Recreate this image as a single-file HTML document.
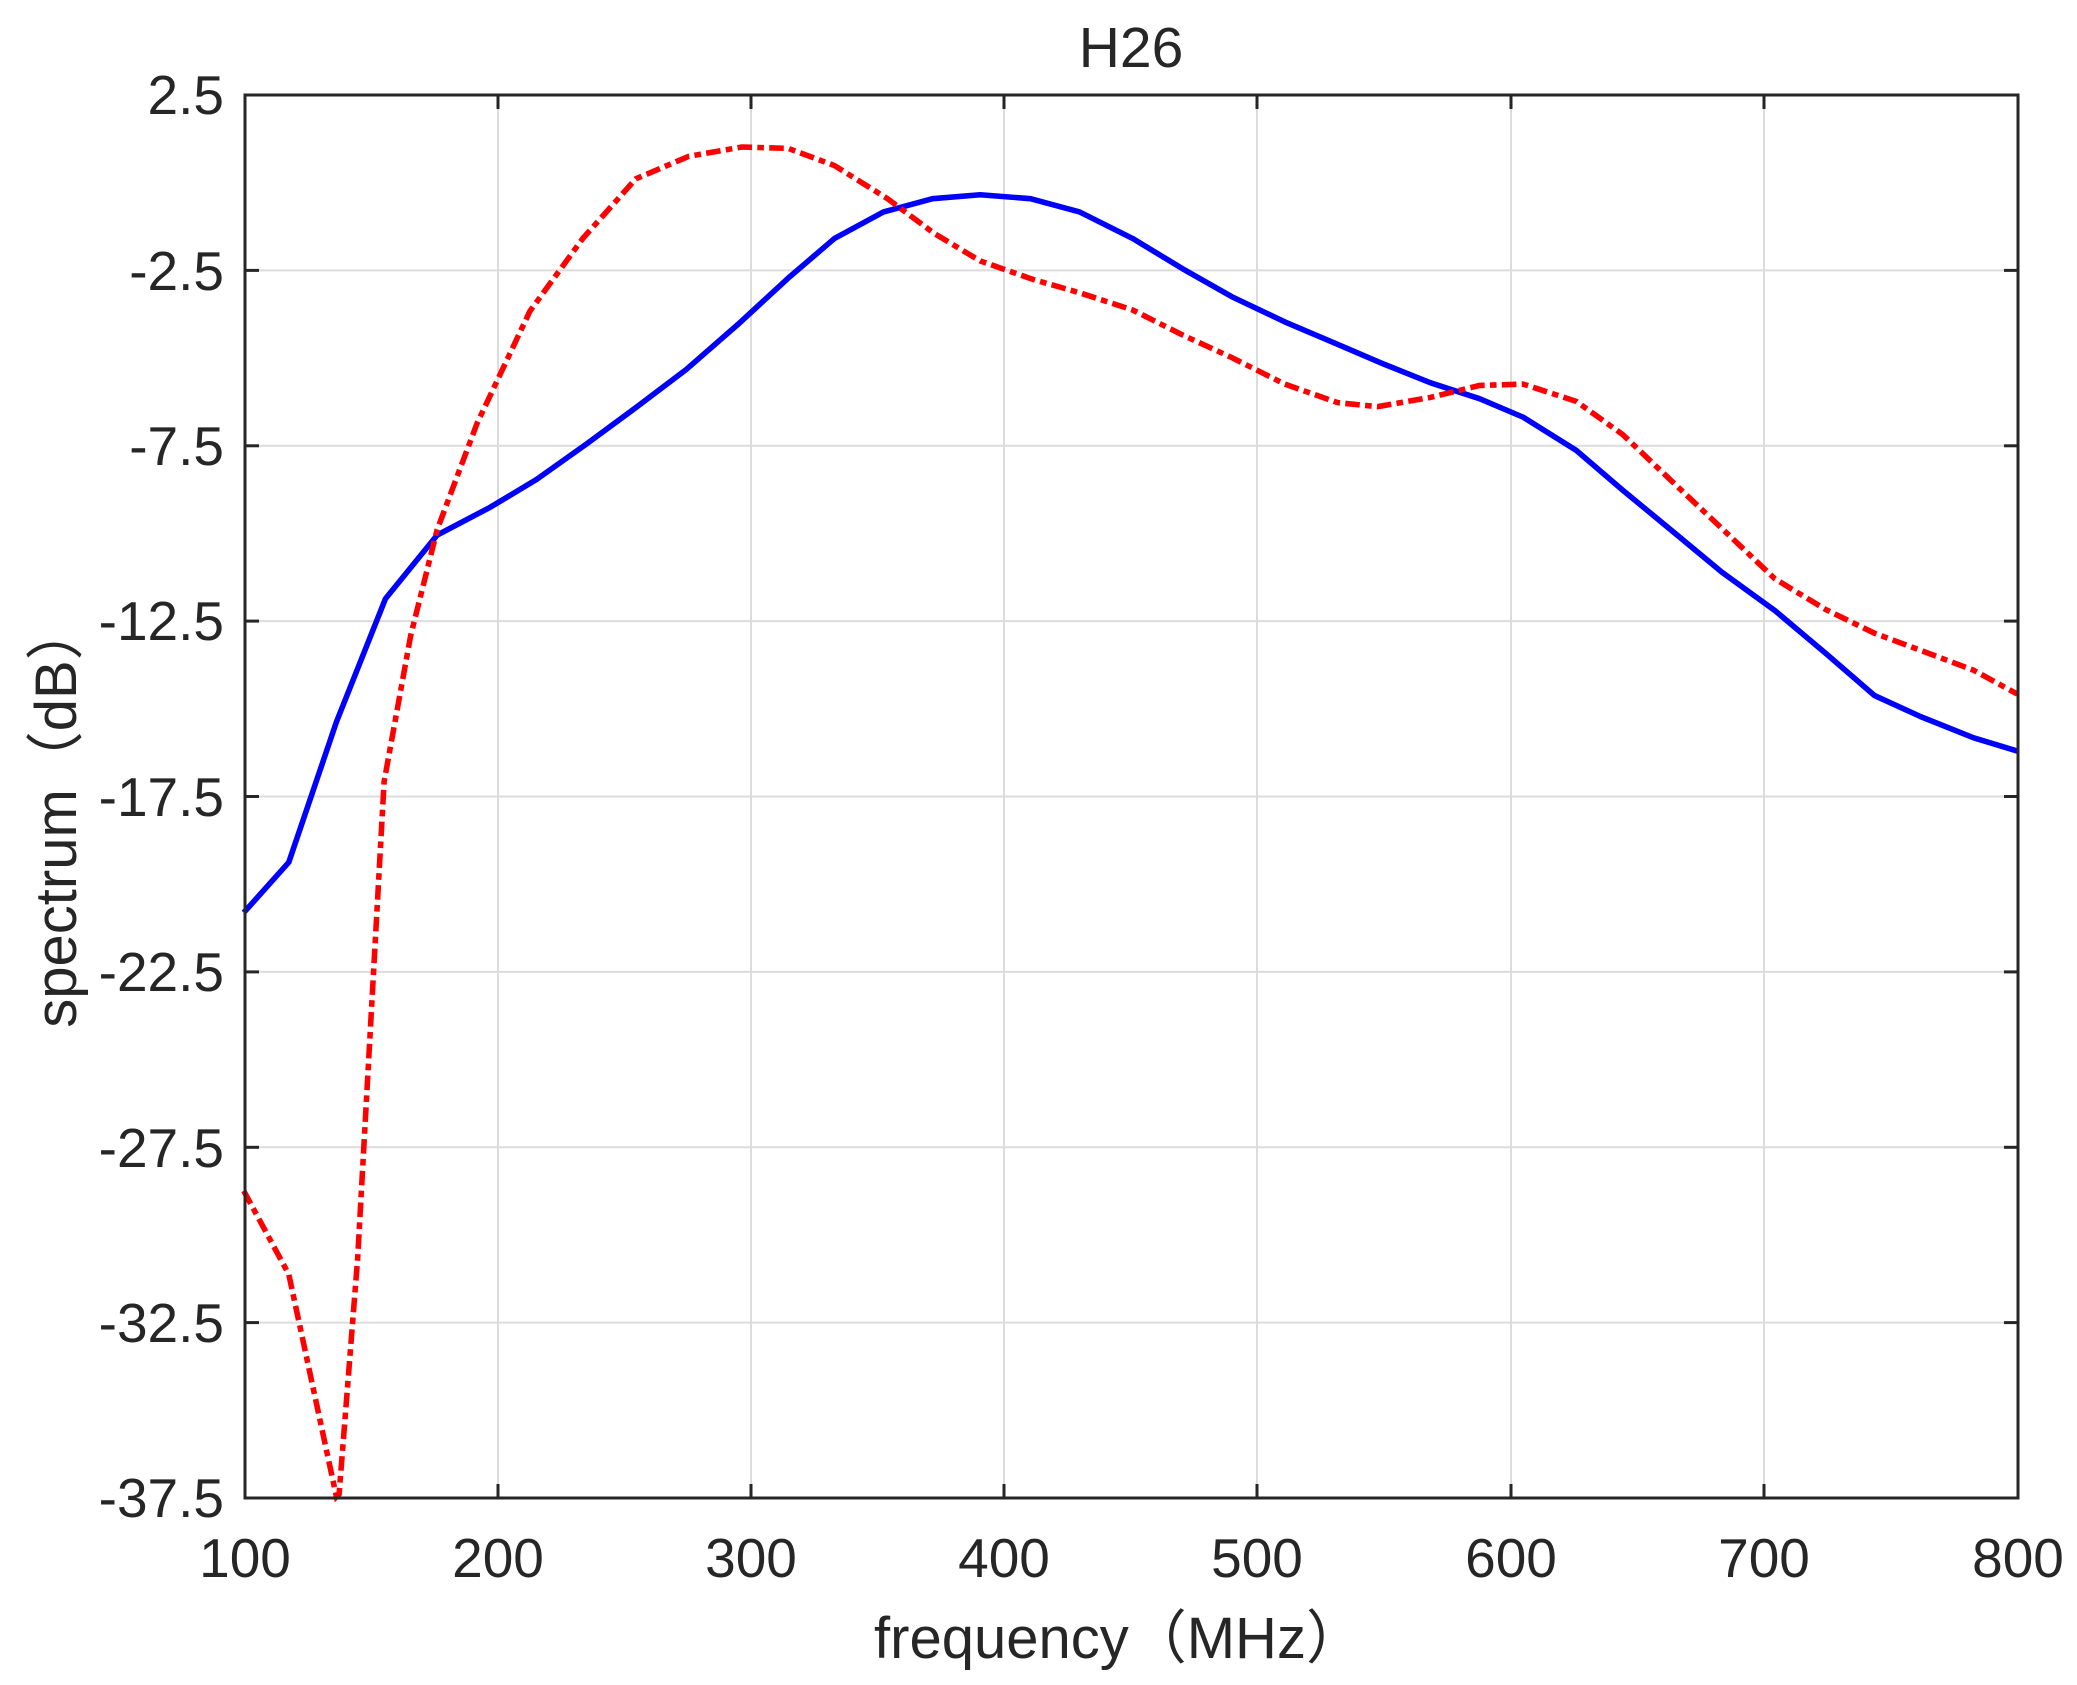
<!DOCTYPE html>
<html><head><meta charset="utf-8"><style>
html,body{margin:0;padding:0;background:#fff;}
svg{display:block;}
text{font-family:"Liberation Sans","Noto Sans CJK SC",sans-serif;fill:#262626;}
</style></head><body>
<svg width="2077" height="1685" viewBox="0 0 2077 1685" xmlns="http://www.w3.org/2000/svg">
<rect width="2077" height="1685" fill="#fff"/>
<g stroke="#dcdcdc" stroke-width="2">
<line x1="498" y1="95" x2="498" y2="1498"/>
<line x1="751" y1="95" x2="751" y2="1498"/>
<line x1="1004" y1="95" x2="1004" y2="1498"/>
<line x1="1257" y1="95" x2="1257" y2="1498"/>
<line x1="1511" y1="95" x2="1511" y2="1498"/>
<line x1="1764" y1="95" x2="1764" y2="1498"/>
<line x1="245" y1="270.4" x2="2018" y2="270.4"/>
<line x1="245" y1="445.8" x2="2018" y2="445.8"/>
<line x1="245" y1="621.1" x2="2018" y2="621.1"/>
<line x1="245" y1="796.5" x2="2018" y2="796.5"/>
<line x1="245" y1="971.9" x2="2018" y2="971.9"/>
<line x1="245" y1="1147.3" x2="2018" y2="1147.3"/>
<line x1="245" y1="1322.6" x2="2018" y2="1322.6"/>
</g>
<g stroke="#262626" stroke-width="3">
<line x1="498" y1="1498" x2="498" y2="1484"/><line x1="751" y1="1498" x2="751" y2="1484"/><line x1="1004" y1="1498" x2="1004" y2="1484"/><line x1="1257" y1="1498" x2="1257" y2="1484"/><line x1="1511" y1="1498" x2="1511" y2="1484"/><line x1="1764" y1="1498" x2="1764" y2="1484"/>
<line x1="498" y1="95" x2="498" y2="109"/><line x1="751" y1="95" x2="751" y2="109"/><line x1="1004" y1="95" x2="1004" y2="109"/><line x1="1257" y1="95" x2="1257" y2="109"/><line x1="1511" y1="95" x2="1511" y2="109"/><line x1="1764" y1="95" x2="1764" y2="109"/>
<line x1="245" y1="270.4" x2="259" y2="270.4"/><line x1="245" y1="445.8" x2="259" y2="445.8"/><line x1="245" y1="621.1" x2="259" y2="621.1"/><line x1="245" y1="796.5" x2="259" y2="796.5"/><line x1="245" y1="971.9" x2="259" y2="971.9"/><line x1="245" y1="1147.3" x2="259" y2="1147.3"/><line x1="245" y1="1322.6" x2="259" y2="1322.6"/>
<line x1="2018" y1="270.4" x2="2004" y2="270.4"/><line x1="2018" y1="445.8" x2="2004" y2="445.8"/><line x1="2018" y1="621.1" x2="2004" y2="621.1"/><line x1="2018" y1="796.5" x2="2004" y2="796.5"/><line x1="2018" y1="971.9" x2="2004" y2="971.9"/><line x1="2018" y1="1147.3" x2="2004" y2="1147.3"/><line x1="2018" y1="1322.6" x2="2004" y2="1322.6"/>
</g>
<g transform="scale(1.3246)" fill="none">
<polyline stroke="#0000ff" stroke-width="4.2" stroke-linejoin="round" points="184,689 218,651 254,545 291,452 330,404 370,383 405,362 443,335 481,307 518,279 557,245 595,210 630,180 667,160 704,150 740,147 778,150 815,160 855,180 893,203 930,224 970,243 1010,260 1045,275 1080,289 1117,301 1150,315 1190,340 1225,370 1265,403 1300,432 1340,461 1378,493 1415,525 1450,541 1490,557 1523,567"/>
<polyline stroke="#ff0000" stroke-width="4.2" stroke-dasharray="11 4 5 4" points="184,899 218,962 254,1130 256,1128 270,950 290,590 310,480 330,400 360,320 400,235 440,180 480,135 520,118 560,111 595,112 630,125 670,150 705,176 740,197 780,211 815,221 855,234 893,253 930,270 970,290 1010,304 1040,307 1080,300 1117,291 1150,290 1190,303 1225,328 1265,366 1300,399 1340,437 1378,460 1415,478 1450,491 1490,506 1523,524"/>
</g>
<rect x="245" y="95" width="1773" height="1403" fill="none" stroke="#262626" stroke-width="3"/>
<g font-size="55" text-anchor="end">
<text x="224" y="114">2.5</text>
<text x="224" y="290">-2.5</text>
<text x="224" y="465">-7.5</text>
<text x="224" y="640">-12.5</text>
<text x="224" y="816">-17.5</text>
<text x="224" y="991">-22.5</text>
<text x="224" y="1167">-27.5</text>
<text x="224" y="1342">-32.5</text>
<text x="224" y="1517">-37.5</text>
</g>
<g font-size="55" text-anchor="middle">
<text x="245" y="1577">100</text>
<text x="498" y="1577">200</text>
<text x="751" y="1577">300</text>
<text x="1004" y="1577">400</text>
<text x="1257" y="1577">500</text>
<text x="1511" y="1577">600</text>
<text x="1764" y="1577">700</text>
<text x="2018" y="1577">800</text>
<text x="1131" y="67" font-size="57">H26</text>
<text x="1119" y="1658" font-size="58">frequency（MHz）</text>
<text transform="translate(76,815) rotate(-90)" font-size="58">spectrum（dB）</text>
</g>
</svg>
</body></html>
